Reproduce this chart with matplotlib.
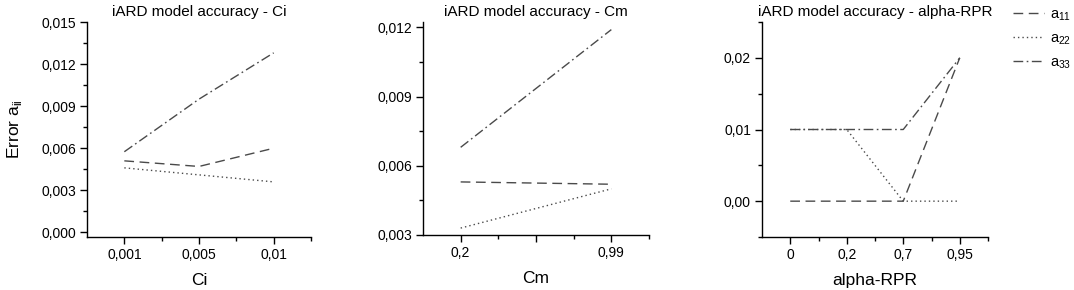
import matplotlib
matplotlib.use('Agg')
import matplotlib.pyplot as plt
from matplotlib.ticker import MultipleLocator, FixedLocator
import numpy as np

plt.rcParams['font.family'] = ['Liberation Sans', 'DejaVu Sans']

# data
ci_labels = ['0,001', '0,005', '0,01']
ci_a11 = [0.0051, 0.0047, 0.0060]
ci_a22 = [0.0046, 0.0041, 0.0036]
ci_a33 = [0.00575, 0.0095, 0.0128]

cm_labels = ['0,2', '0,99']
cm_a11 = [0.0053, 0.0052]
cm_a22 = [0.0033, 0.0050]
cm_a33 = [0.0068, 0.0119]

rpr_labels = ['0', '0,2', '0,7', '0,95']
rpr_a11 = [0.0, 0.0, 0.0, 0.02]
rpr_a22 = [0.01, 0.01, 0.0, 0.0]
rpr_a33 = [0.01, 0.01, 0.01, 0.02]

series_names = ['$\\mathregular{a_{11}}$', '$\\mathregular{a_{22}}$', '$\\mathregular{a_{33}}$']
styles = [(0, (7, 4)), (0, (1, 2.2)), (0, (7, 2.5, 1.2, 2.5))]
line_color = '#4a4a4a'


def comma_fmt(v, nd):
    return ('{:.%df}' % nd).format(v).replace('.', ',')


def setup_axis(ax, title, xlabel):
    ax.spines['top'].set_visible(False)
    ax.spines['right'].set_visible(False)
    ax.spines['left'].set_linewidth(1.0)
    ax.spines['bottom'].set_linewidth(1.0)
    ax.tick_params(which='major', direction='out', length=5, width=1, labelsize=10, pad=3)
    ax.tick_params(which='minor', direction='out', length=3, width=1)
    ax.set_title(title, fontsize=11, pad=4)
    ax.set_xlabel(xlabel, fontsize=12.5, labelpad=8)


fig = plt.figure(figsize=(10.74, 2.9), dpi=100)

# panel 1 - Ci
ax1 = fig.add_axes([87 / 1074, 53 / 290, 224 / 1074, 215 / 290])
x1 = np.arange(1, len(ci_labels) + 1)
lines = []
for vals, ls in zip([ci_a11, ci_a22, ci_a33], styles):
    l, = ax1.plot(x1, vals, color=line_color, lw=1.0, linestyle=ls)
    lines.append(l)
ax1.set_xlim(0.5, 3.5)
ax1.set_ylim(-0.00033, 0.015)
ax1.set_xticks(x1)
ax1.set_xticklabels(ci_labels)
ax1.xaxis.set_minor_locator(FixedLocator([1.5, 2.5, 3.5]))
yt = np.arange(0, 0.0151, 0.003)
ax1.set_yticks(yt)
ax1.set_yticklabels([comma_fmt(v, 3) for v in yt])
ax1.yaxis.set_minor_locator(MultipleLocator(0.0015))
setup_axis(ax1, 'iARD model accuracy - Ci', 'Ci')
ax1.set_ylabel('Error a$_{\\mathregular{ii}}$', fontsize=12.5, labelpad=12)

# panel 2 - Cm
ax2 = fig.add_axes([423 / 1074, 55 / 290, 226 / 1074, 213 / 290])
x2 = np.arange(1, len(cm_labels) + 1)
for vals, ls in zip([cm_a11, cm_a22, cm_a33], styles):
    ax2.plot(x2, vals, color=line_color, lw=1.0, linestyle=ls)
ax2.set_xlim(0.75, 2.25)
ax2.set_ylim(0.003, 0.01223)
ax2.set_xticks([1, 1.5, 2])
ax2.set_xticklabels([cm_labels[0], '', cm_labels[1]])
ax2.xaxis.set_minor_locator(FixedLocator([1.25, 1.75, 2.25]))
yt = np.arange(0.003, 0.0121, 0.003)
ax2.set_yticks(yt)
ax2.set_yticklabels([comma_fmt(v, 3) for v in yt])
ax2.yaxis.set_minor_locator(MultipleLocator(0.0015))
setup_axis(ax2, 'iARD model accuracy - Cm', 'Cm')

# panel 3 - alpha-RPR
ax3 = fig.add_axes([762 / 1074, 53 / 290, 226 / 1074, 215 / 290])
x3 = np.arange(1, len(rpr_labels) + 1)
for vals, ls in zip([rpr_a11, rpr_a22, rpr_a33], styles):
    ax3.plot(x3, vals, color=line_color, lw=1.0, linestyle=ls)
ax3.set_xlim(0.5, 4.5)
ax3.set_ylim(-0.005, 0.025)
ax3.set_xticks(x3)
ax3.set_xticklabels(rpr_labels)
ax3.xaxis.set_minor_locator(FixedLocator([1.5, 2.5, 3.5, 4.5]))
yt = [0.0, 0.01, 0.02]
ax3.set_yticks(yt)
ax3.set_yticklabels([comma_fmt(v, 2) for v in yt])
ax3.yaxis.set_minor_locator(FixedLocator([-0.005, 0.005, 0.015, 0.025]))
setup_axis(ax3, 'iARD model accuracy - alpha-RPR', 'alpha-RPR')

fig.legend(lines, series_names, loc='upper left', bbox_to_anchor=(1003 / 1074, 1 + 3 / 290),
           frameon=False, fontsize=10.5, handlelength=2.1, handletextpad=0.4,
           labelspacing=0.6, borderpad=0.2)

fig.savefig('out.png', dpi=100)
